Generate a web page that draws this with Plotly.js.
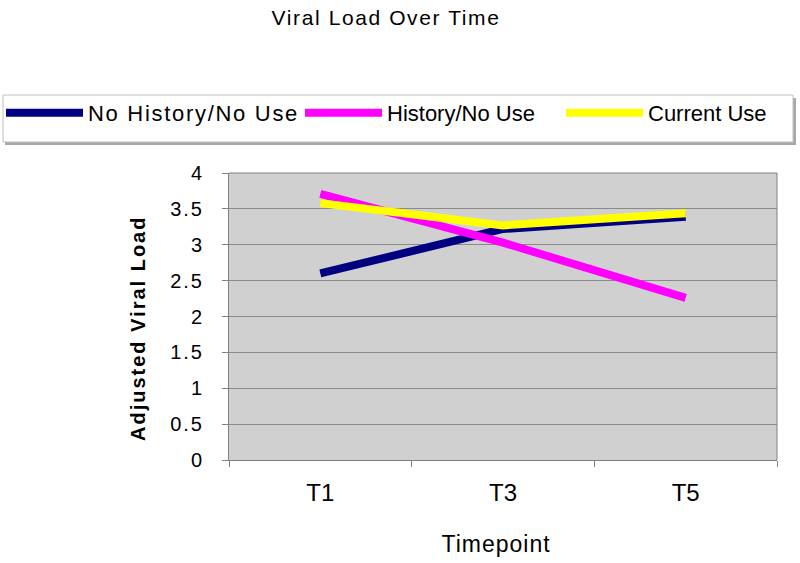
<!DOCTYPE html>
<html>
<head>
<meta charset="utf-8">
<script src="https://cdn.plot.ly/plotly-3.0.1.min.js"></script>
<style>
html,body{margin:0;padding:0;background:#fff;}
#chart{width:800px;height:563px;}
#chart .gtitle{letter-spacing:1.6px;}
#chart .ytick text, #chart text.ytick{letter-spacing:2px;}
#chart .legendtext{letter-spacing:1.7px;}
#chart g.scrollbox, #chart .legend g{clip-path:none !important;}
#chart g.annotation[data-index="0"] text{letter-spacing:2px;}
#chart g.annotation[data-index="1"] text{letter-spacing:1px;}
</style>
</head>
<body>
<div id="chart"></div>
<script>
const categories = ["T1", "T3", "T5"];
const noHistoryNoUse = [2.6, 3.22, 3.39];
const historyNoUse = [3.71, 3.03, 2.26];
const currentUse = [3.58, 3.27, 3.44];
const yTicks = [0, 0.5, 1, 1.5, 2, 2.5, 3, 3.5, 4];

const FONT = "Liberation Sans, Arial, sans-serif";

// pixel helpers for placing layout furniture (plot area: x 229..777, y 173..460)
const PX0 = 229, PW = 548, PY0 = 460, PH = 287;
const px = v => (v - PX0) / PW;
const py = v => (PY0 - v) / PH;

const traces = [
  {x: categories, y: noHistoryNoUse, name: "No History/No Use", mode: "lines",
   line: {color: "#000080", width: 8}, legend: "legend"},
  {x: categories, y: historyNoUse, name: "History/No Use", mode: "lines",
   line: {color: "#ff00ff", width: 8}, legend: "legend2"},
  {x: categories, y: currentUse, name: "Current Use", mode: "lines",
   line: {color: "#ffff00", width: 8}, legend: "legend3"}
];

const legendBase = {orientation: "h", yanchor: "middle", xanchor: "left",
  bgcolor: "rgba(0,0,0,0)", borderwidth: 0, itemwidth: 77,
  font: {family: FONT, size: 22, color: "#000"}};

const layout = {
  width: 800, height: 563,
  margin: {l: 229, r: 23, t: 173, b: 103, autoexpand: false},
  paper_bgcolor: "#ffffff",
  plot_bgcolor: "#d0d0d0",
  font: {family: FONT, color: "#000", size: 18},
  title: {text: "Viral Load Over Time", font: {family: FONT, size: 21, color: "#000"},
          xref: "container", yref: "container", x: 386/800, y: 1 - 18/563,
          xanchor: "center", yanchor: "middle"},
  showlegend: true,
  legend: Object.assign({}, legendBase, {x: px(1), y: py(113)}),
  legend2: Object.assign({}, legendBase, {x: px(300), y: py(113)}),
  legend3: Object.assign({}, legendBase, {x: px(561), y: py(113)}),
  xaxis: {
    type: "category", range: [-0.5, 2.5],
    showgrid: false, zeroline: false,
    showline: true, linecolor: "#808080", linewidth: 1,
    ticks: "outside", tickson: "boundaries", ticklen: 6, tickcolor: "#808080",
    tickfont: {family: FONT, size: 24, color: "#000"},
    ticklabelstandoff: 11
  },
  yaxis: {
    range: [0, 4], tickvals: yTicks, ticktext: yTicks.map(String),
    showgrid: true, gridcolor: "#8a8a8a", gridwidth: 1,
    zeroline: false, showline: true, linecolor: "#808080", linewidth: 1,
    ticks: "outside", ticklen: 6, tickcolor: "#808080",
    tickfont: {family: FONT, size: 20, color: "#000"},
    ticklabelstandoff: 14
  },
  annotations: [
    {text: "<b>Adjusted Viral Load</b>", textangle: -90, xref: "paper", yref: "paper",
     x: px(138), y: py(329), xanchor: "center", yanchor: "middle", showarrow: false,
     font: {family: FONT, size: 20, color: "#000"}},
    {text: "Timepoint", xref: "paper", yref: "paper",
     x: px(496), y: py(544), xanchor: "center", yanchor: "middle", showarrow: false,
     font: {family: FONT, size: 23, color: "#000"}}
  ],
  shapes: [
    {type: "rect", xref: "paper", yref: "paper", x0: px(5), x1: px(796), y0: py(98), y1: py(145),
     fillcolor: "#a8a8a8", line: {width: 0}},
    {type: "rect", xref: "paper", yref: "paper", x0: px(3), x1: px(793), y0: py(95), y1: py(142),
     fillcolor: "#ffffff", line: {color: "#c0c0c0", width: 1}},
    {type: "line", xref: "paper", yref: "paper", x0: 0, x1: 1, y0: 1, y1: 1,
     line: {color: "#808080", width: 1}},
    {type: "line", xref: "paper", yref: "paper", x0: 1, x1: 1, y0: 0, y1: 1,
     line: {color: "#808080", width: 1}}
  ]
};

Plotly.newPlot("chart", traces, layout, {displayModeBar: false, staticPlot: true});
</script>
</body>
</html>
